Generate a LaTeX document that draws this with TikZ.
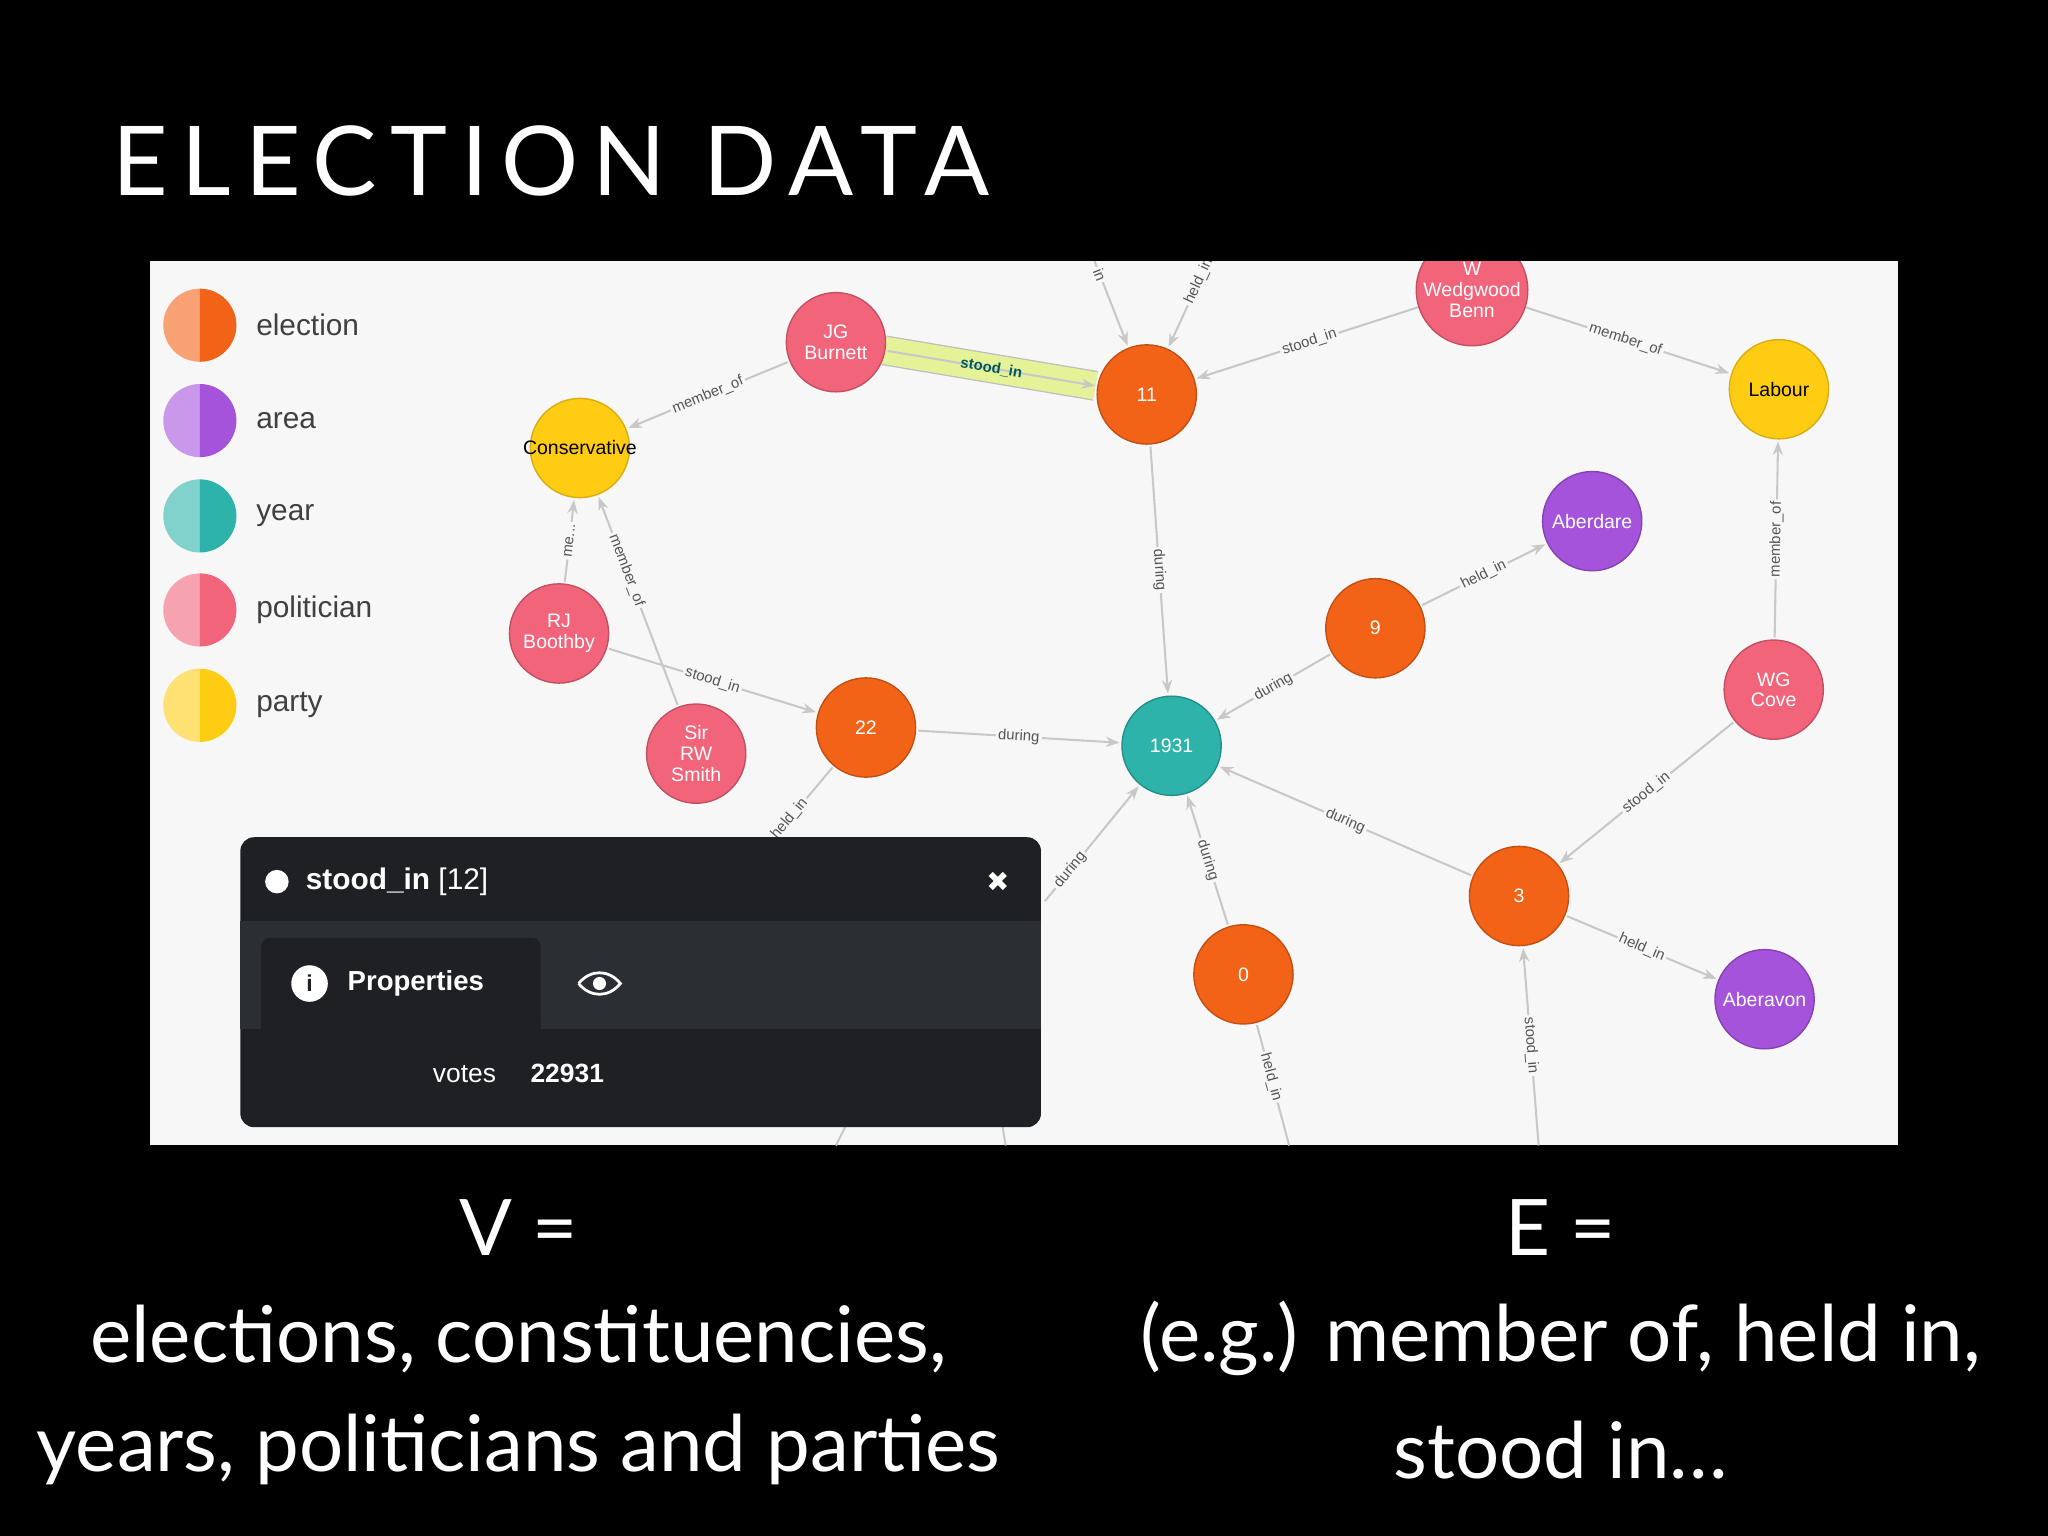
\documentclass[tikz,border=0pt]{standalone}
\usepackage{fontspec}
\setmainfont{Liberation Sans}
\newfontfamily\latof{Lato}
\newfontfamily\dejaf{DejaVu Sans}
\newfontfamily\titlef[LetterSpace=14]{Lato}
\usetikzlibrary{arrows.meta}
\definecolor{pnl}{HTML}{F7F7F8}
\definecolor{eorange}{HTML}{F26318}
\definecolor{epink}{HTML}{F2647A}
\definecolor{eyellow}{HTML}{FFCC14}
\definecolor{epurple}{HTML}{A653DC}
\definecolor{eteal}{HTML}{2DB3AA}
\definecolor{edge}{HTML}{C8C8C8}
\definecolor{elab}{HTML}{555555}
\definecolor{infobg}{HTML}{1E2024}
\definecolor{infotab}{HTML}{2B2E33}
\tikzset{
 gnode/.style={circle,minimum size=1.52cm,inner sep=0pt,align=center,text=white,font=\fontsize{8.5}{9}\selectfont,line width=0.6pt},
 el/.style={gnode,fill=eorange,draw=eorange!80!black},
 pol/.style={gnode,fill=epink,draw=epink!80!black},
 par/.style={gnode,fill=eyellow,draw=eyellow!85!black,text=black},
 area/.style={gnode,fill=epurple,draw=epurple!80!black},
 yr/.style={gnode,fill=eteal,draw=eteal!80!black},
 conn/.style={draw=edge,line width=0.9pt,-{Stealth[length=6pt]},shorten >=0.8cm,shorten <=0.8cm},
 cout/.style={draw=edge,line width=0.9pt,shorten <=0.8cm},
 cin/.style={draw=edge,line width=0.9pt,-{Stealth[length=6pt]},shorten >=0.8cm},
 lab/.style={midway,sloped,fill=pnl,inner sep=1pt,text=elab,font=\fontsize{6.5}{7}\selectfont},
 leg/.style={font=\fontsize{13}{14}\selectfont,text=black!75,anchor=west},
 big/.style={text=white,font=\latof\fontsize{34}{38}\selectfont}
}
\begin{document}
\begin{tikzpicture}[x=0.02cm,y=-0.02cm]
\fill[black] (0,0) rectangle (1568,1176);
\fill[pnl] (115,200) rectangle (1453,877);
\node[anchor=base west,text=white,font=\titlef\fontsize{42}{48}\selectfont,inner sep=0] (title) at (86,150) {ELECTION DATA};
% coordinates
\coordinate (cjg) at (640,262);
\coordinate (c11) at (878,302);
\coordinate (cwb) at (1127,222);
\coordinate (clab) at (1362,298);
\coordinate (ccon) at (444,343);
\coordinate (cabd) at (1219,399);
\coordinate (c9) at (1053,481);
\coordinate (crj) at (428,485);
\coordinate (cwg) at (1358,528);
\coordinate (csm) at (533,577);
\coordinate (c22) at (663,557);
\coordinate (c31) at (897,571);
\coordinate (c3) at (1163,686);
\coordinate (c0) at (952,746);
\coordinate (cav) at (1351,765);
\coordinate (t1) at (838,200);
\coordinate (t2) at (925,200);
\coordinate (b1) at (585,650);
\coordinate (b2) at (800,690);
\coordinate (b3) at (987,877);
\coordinate (b4) at (1178,877);
\coordinate (b5) at (770,877);
\coordinate (b6) at (640,877);
\begin{scope}
\clip (115,200) rectangle (1453,877);
\draw[line width=0.46cm,draw=black!25,line cap=butt,shorten >=0.8cm,shorten <=0.75cm] (cjg) -- (c11);
\draw[line width=0.42cm,draw=yellow!35!white!90!green,line cap=butt,shorten >=0.8cm,shorten <=0.75cm] (cjg) -- (c11);
\draw[conn] (cjg) -- node[lab,fill=none,text=teal!70!black,font=\bfseries\fontsize{6.5}{7}\selectfont]{stood\_in} (c11);
\draw[conn] (cjg) -- node[lab]{member\_of} (ccon);
\draw[conn] (cwb) -- node[lab]{stood\_in} (c11);
\draw[conn] (cwb) -- node[lab]{member\_of} (clab);
\draw[conn] (c11) -- node[lab]{during} (c31);
\draw[conn] (c9) -- node[lab]{during} (c31);
\draw[conn] (c9) -- node[lab]{held\_in} (cabd);
\draw[conn] (crj) -- node[lab]{me...} (ccon);
\draw[conn] (csm) -- node[lab,pos=0.6]{member\_of} (ccon);
\draw[conn] (crj) -- node[lab,pos=0.5]{stood\_in} (c22);
\draw[conn] (c22) -- node[lab]{during} (c31);
\draw[cout] (c22) -- node[lab,pos=0.75]{held\_in} (b1);
\draw[conn] (c3) -- node[lab]{during} (c31);
\draw[conn] (cwg) -- node[lab]{member\_of} (clab);
\draw[conn] (cwg) -- node[lab]{stood\_in} (c3);
\draw[conn] (c3) -- node[lab]{held\_in} (cav);
\draw[conn] (c0) -- node[lab]{during} (c31);
\draw[cout] (c0) -- node[lab,pos=0.6]{held\_in} (b3);
\draw[cin] (b4) -- node[lab,pos=0.4]{stood\_in} (c3);
\draw[cin] (b2) -- node[lab,pos=0.2]{during} (c31);
\draw[cin] (t1) -- node[lab,pos=0.1]{in} (c11);
\draw[cin] (t2) -- node[lab,pos=0.15]{held\_in} (c11);
\draw[draw=edge,line width=0.9pt] (b5) -- ++(-5,-30);
\draw[draw=edge,line width=0.9pt] (b6) -- ++(10,-20);
\node[pol] (jg) at (cjg) {JG\\Burnett};
\node[el] (n11) at (c11) {11};
\node[pol] (wb) at (cwb) {W\\Wedgwood\\Benn};
\node[par] (lab) at (clab) {Labour};
\node[par] (con) at (ccon) {};
\node[font=\fontsize{8.5}{9}\selectfont] (contxt) at (ccon) {Conservative};
\node[area] (abd) at (cabd) {Aberdare};
\node[el] (n9) at (c9) {9};
\node[pol] (rj) at (crj) {RJ\\Boothby};
\node[pol] (wg) at (cwg) {WG\\Cove};
\node[pol] (sm) at (csm) {Sir\\RW\\Smith};
\node[el] (n22) at (c22) {22};
\node[yr] (y31) at (c31) {1931};
\node[el] (n3) at (c3) {3};
\node[el] (n0) at (c0) {0};
\node[area] (av) at (cav) {Aberavon};
\end{scope}
% legend
\foreach \y/\cl/\t [count=\i] in {249/eorange/election,322/epurple/area,395/eteal/year,467/epink/politician,540/eyellow/party}{
 \fill[\cl!60!white] (153,\y) ++(90:28) arc (90:270:28) -- cycle;
 \fill[\cl] (153,\y) ++(-90:28) arc (-90:90:28) -- cycle;
 \node[leg] (leg\i) at (190,\y) {\t};
}
% info panel
\fill[infobg,rounded corners=6pt] (184,641) rectangle (797,863);
\fill[infotab] (184,705) rectangle (797,788);
\fill[infobg,rounded corners=4pt] (200,718) rectangle (414,800);
\fill[infobg] (200,780) rectangle (414,788);
\fill[white] (212,675) circle (9);
\node[anchor=west,text=white,font=\bfseries\fontsize{13}{14}\selectfont] (ititle) at (228,675) {stood\_in \textcolor{white!65}{\mdseries[12]}};
\node[text=white!40,font=\dejaf\fontsize{12}{12}\selectfont] (ix) at (764,675) {✖};
\fill[white] (237,753) circle (14);
\node[text=infobg,font=\bfseries\fontsize{10}{10}\selectfont] (ii) at (237,753) {i};
\node[anchor=west,text=white!85,font=\bfseries\fontsize{12}{13}\selectfont] (iprop) at (260,753) {Properties};
\draw[white!35,line width=1.2pt] (443,753) .. controls (452,742) and (466,742) .. (475,753) .. controls (466,764) and (452,764) .. (443,753);
\fill[white!35] (459,753) circle (5);
\node[anchor=east,text=white!65,font=\fontsize{11.5}{12}\selectfont] (ivk) at (386,822) {votes};
\node[anchor=west,text=white,font=\bfseries\fontsize{11.5}{12}\selectfont] (ivv) at (400,822) {22931};
% bottom text
\node[big] (v1) at (397,940) {V =};
\node[big] (v2) at (397,1025) {elections, constituencies,};
\node[big] (v3) at (397,1110) {years, politicians and parties};
\node[big] (e1) at (1195,940) {E =};
\node[big] (e2) at (1195,1025) {(e.g.) member of, held in,};
\node[big] (e3) at (1195,1110) {stood in\dots};
\end{tikzpicture}
\end{document}
